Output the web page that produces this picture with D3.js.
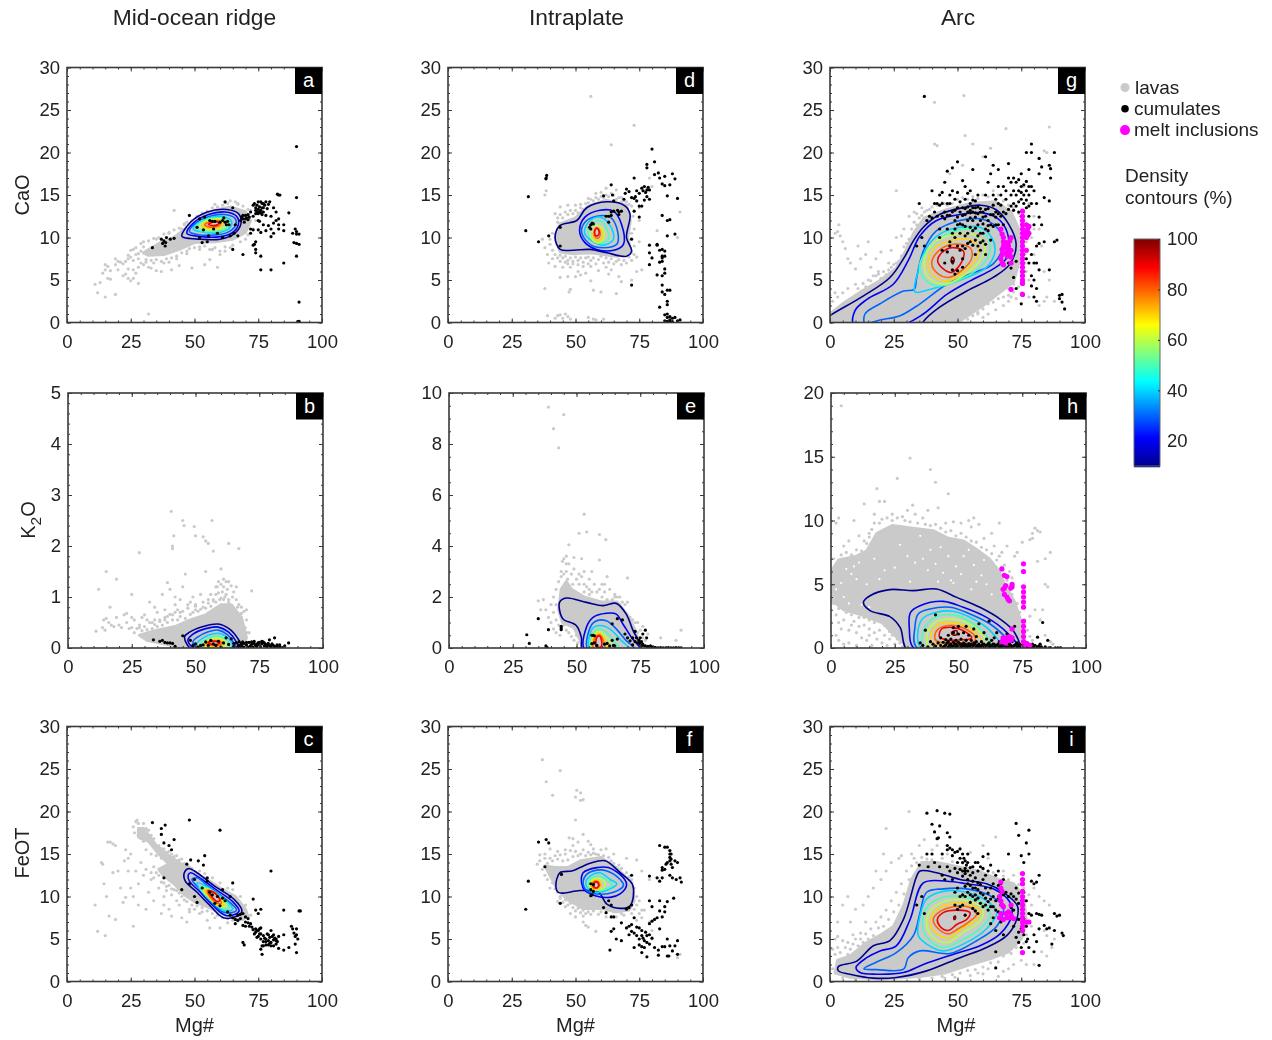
<!DOCTYPE html>
<html>
<head>
<meta charset="utf-8">
<script src="https://cdn.jsdelivr.net/npm/d3@7"></script>
<style>
body { margin:0; background:#fff; }
svg { display:block; filter:blur(0.45px); }
text { font-family:"Liberation Sans",Arial,sans-serif; fill:#222; }
</style>
</head>
<body>
<div id="chart"></div>
<script>
var width = 1272, height = 1040, size = 255;

var columnTitles = ["Mid-ocean ridge", "Intraplate", "Arc"];
var xTicks = [0,25,50,75,100];
var yTicks30 = [0,5,10,15,20,25,30];
var yTicksK5 = [0,1,2,3,4,5];
var yTicksK10 = [0,2,4,6,8,10];
var yTicksK20 = [0,5,10,15,20];
var barTicks = [20,40,60,80,100];
var legendNames = ["lavas","cumulates","melt inclusions"];

// dense part of each lava cloud, read as an outline
var coreA = [[[30,8.2],[36,9.3],[42,10],[47,11.2],[52,12.4],[58,13.2],[64,13.6],[70,13],[72,12],[70,10.6],[65,9.8],[58,9.5],[50,9.4],[44,8.6],[38,8],[32,7.9]]];
var coreB = [[[28,.25],[35,.35],[42,.42],[48,.55],[54,.65],[60,.85],[64,.85],[68,.6],[70,.2],[68,0],[44,0],[38,.08],[31,.15]]];
var coreC = [[[28,18],[30,18],[35,16],[40,14.8],[45,13.8],[50,12.8],[55,12],[60,11],[66,10],[70,8.5],[71,7.6],[68,7.3],[62,7.8],[55,8.8],[50,9.4],[46,10.2],[42,11.5],[38,12.4],[36,13.2],[40,13.8],[36,15],[32,16.5],[28,17]]];
var coreD = [[[42,10],[44,11.6],[50,12.3],[55,13.7],[62,14.4],[70,13.8],[71.5,12],[70.5,10],[72,8.2],[66,7.8],[56,8.2],[49,8.1],[44,8.3]]];
var coreE = [[[43,1.5],[44,2.3],[46,2.6],[48,2.3],[53,2],[60,1.8],[66,1.8],[70,1.3],[73,.7],[75,.1],[53,0],[51,.4],[49,.8],[44.5,1]]];
var coreF = [[[38,13.6],[42,13.4],[47,13.4],[52,14.2],[60,14.6],[66,13.4],[72,11.6],[73,9.5],[71,8.4],[66,8.2],[60,8.6],[53,8.6],[47,9.6],[43,10.8]]];
var coreG = [[[0,0],[0,1],[5,2.2],[12,3.6],[20,5],[26,6.4],[30,8.6],[33,10.6],[37,12.3],[45,13.2],[55,14],[65,14.2],[71,13],[74,11],[75,8],[72,4.8],[66,3.4],[60,2],[54,.8],[50,0]]];
var coreH = [[[0,6],[3,6.9],[10,7.2],[14,7.6],[18,9],[24,9.6],[32,9.4],[40,9.2],[46,8.6],[52,8.4],[58,7.6],[62,7],[66,6],[68,5],[72,3.6],[75,1.8],[76,.3],[70,0],[31,0],[26,.8],[20,2],[12,2.6],[5,3],[0,3.8]]];
var coreI = [[[2,1],[3,2.5],[8,3],[14,4.5],[20,5.5],[25,6.5],[29,9],[32,12],[36,14],[42,14],[50,13.5],[58,13],[66,12],[72,11.5],[76,10],[77,7],[75,5],[70,3.5],[64,2.8],[55,2],[45,1],[35,.6],[20,.3],[8,.5]]];

// holes in the densest arc K2O cloud
var gapsH = [[6,6.2],[8,5.8],[10,5.4],[9,6.4],[11,6.7],[21,6.1],[27,8.1],[30,7.2],[33,6.7],[35,8.8],[36,7],[38,6.1],[39,7.7],[41,6.6],[43,7.9],[44,5.9],[46,7.2],[47,5.3],[49,6.4],[51,5.8],[52,7.2],[54,7.7],[56,6.5],[57,5.2],[59,5.7],[60,6.9],[61,5],[63,4.2],[25,6.3],[17,7],[19,5.4],[14,5],[4,5.1],[2,4.6],[5,4],[12,3.4],[15,3.2],[7,3.5],[31,5.2],[42,5.2],[55,4.6],[48,5.1]];

var lavasA = [[11,4.5],[12,3.5],[15,3],[19,3.3],[14,5.8],[15,6.2],[15,6.8],[16,6.6],[17,6.1],[19,7.5],[19,6.8],[20,6.2],[16,5.2],[17,5.1],[13,4.7],[22,5.5],[23,5.7],[24,5.2],[25,4.9],[26,5.2],[28,4.6],[22,6.9],[23,7.2],[24,7.5],[25,7.7],[28,6.5],[29,7],[30,6.8],[32,6.5],[31,7.1],[33,6.4],[35,6.1],[37,6],[41,6.2],[44,6.7],[49,6.4],[54,6.8],[56,7.4],[59,6.5],[42,13.2],[40,10.5],[45,11],[46,11.6],[32,1],[60,8],[62,8.4],[64,8.8],[58,13.9],[62,14.1],[67,14],[27,5.8],[26,6.2],[24,6.3],[21,7.1],[20,7.2],[34,7],[38,7],[40,7.1],[43,7.5],[47,8.1],[52,8.6],[57,8.6],[47,11.8],[44,10.2],[35,9.8],[30,9.5],
 [26,7.3],[27,8.8],[28,8.1],[29,9.3],[30,8.9],[31,7.4],[32,9.6],[33,7.3],[34,9.9],[35,7.4],[36,10],[37,7.2],[38,10.4],[39,7.5],[40,10.6],[41,7.6],[42,10.9],[43,7.8],[44,11.1],[45,8.2],[46,11.5],[47,8.4],[48,8.7],[49,12],[50,8.8],[51,12.5],[52,8.9],[53,12.9],[54,9],[55,13.1],[56,8.6],[57,13.5],[58,8.8],[59,13.6],[60,8.4],[61,13.8],[62,8.9],[63,14],[64,14.3],[65,9.1],[66,14.2],[67,13.9],[68,9.5],[69,13.7],[70,9.8],[71,13.3],[72,13.2],[73,11],[74,12],[71,10.3],[24,7.9],[25,8.5],[26,8.6],[27,8],[28,7.5],[29,8.4]];
var cumA = [[33.5,8.8],[37,9.8],[37.5,9.3],[38,9.6],[38.5,9],[38.7,9.4],[39,10],[40.5,9.8],[42,9.9],[48,12.6],[51,11.2],[52,12.2],[52,10],[53.5,10.9],[54,12.4],[53,9.4],[55,9.5],[55.5,10.2],[56,12],[57,11.9],[57.5,11],[58,11.9],[59,10.5],[60,11.8],[61,12],[61.5,12.3],[62,11.8],[62.5,11.5],[63,11.9],[63.5,11.5],[62,14.2],[61,10],[64,10.2],[65,8.6],[65,13.5],[65.5,10.5],[66,11.5],[67,10.2],[68,12],[68.5,12.4],[69,12.2],[69,8],[69.5,11.8],[70,12.6],[70.5,12.3],[71,12.1],[71,12.7],[72,13],[72,11],[72,10.5],[73,13.8],[73,10.9],[73.5,14],[74,13.2],[74,13.5],[74.5,13],[75,14.2],[75,12.8],[75,12],[75.5,13.6],[76,13.2],[76,14.2],[76.5,13.5],[76.5,12.7],[77,14],[77,13],[77.5,13.8],[78,14.2],[78,12.6],[78.5,13.4],[79,13.9],[79.5,14.2],[80,12.5],[81,13.5],[82,13],[82.5,15.1],[83,15],[83.5,15],[83,12.2],[83,11.5],[82,12],[81,11.7],[80,11],[79,11.4],[78,10.8],[77,11.5],[76,10.6],[75.5,11.9],[75,10.9],[81,10.5],[80,10.1],[83,11],[85,11.5],[85,10.8],[87,12.9],[90,14.7],[90,20.7],[89.5,11],[90,10.7],[91,10.4],[88.5,10.5],[90,10.4],[89,9.4],[90,9.3],[91,9.2],[90,7.8],[91,2.4],[90.5,.1],[91,.15],[85,7],[80,6.2],[76,6.2],[76,7.8],[74,8.2],[74,8.6],[73.5,9.2],[74,9.5],[73,9.1],[74.5,13.8],[75.5,13],[76,12.9],[76.5,14],[77,13.5],[75,13.3],[74,12.8],[73,12.5],[71.5,12.4],[70,12.2],[69,12.6]];

var lavasB = [[11,.33],[12,1.15],[15,1.5],[13.5,.4],[14,.55],[15,.58],[16,.5],[16.5,.8],[14.5,.35],[17,.45],[18,.42],[19,1.35],[19,.6],[20,.45],[21,.4],[22,.65],[23,.68],[23,.5],[24,.38],[25,1.05],[25,.6],[26,.55],[28,1.87],[28,.4],[29,.6],[30,.65],[31,.55],[32,.9],[33,.5],[34,.8],[35,.7],[37,1.05],[38,.75],[39,1.28],[40,1.15],[40.5,2.68],[41,2],[41,1.95],[41.5,2.2],[42,1],[42,.85],[43,.75],[44,.95],[45,1.2],[45,2.5],[45.5,2.4],[46,1.45],[47,.85],[48,.9],[49,1],[49.5,2.38],[50,2.2],[50,.85],[52,1.05],[53,2.18],[54,2.1],[54,1.5],[55,2.05],[56,1.05],[56.5,2.5],[57,1.9],[58,1.2],[60,1.55],[61,1.35],[63,2.05],[63,1.3],[66,1.2],[67,1.95],[68,.8],[70,.75],[72,1.12],[70,.55],[71,.3],[53,.9],[55,.95],[57,.95],[44,.7],[50,.75],[38,.55],[36,.55],[34,.55],[39,.62],[41,.65],
 [25,.4],[26,.3],[27,.38],[28,.45],[29,.34],[30,.42],[31,.36],[32,.5],[33,.38],[34,.46],[35,.42],[36,.52],[37,.45],[38,.6],[39,.5],[40,.66],[41,.55],[42,.7],[43,.55],[44,.62],[45,.72],[46,.58],[47,.78],[48,.66],[49,.7],[50,.82],[51,.72],[52,.76],[53,.8],[54,.78],[55,.88],[56,.82],[57,.92],[58,1.05],[58.5,1.2],[59,1.3],[59.5,.95],[60,1.25],[60.5,1.1],[61,1.2],[61.5,1],[62,1.3],[62.5,1.15],[63,.95],[64,1.22],[64.5,1],[65,1.1],[66,.95],[66.5,.8],[67,.85],[68,.68],[69,.72],[69.5,.4],[70,.3],[61,.95],[63,.9],[60,.98],[62,1.05],[58,.9],[59,1.08]];
var cumB = [[33.5,.16],[36,.13],[37,.15],[38,.11],[39,.1],[40,.1],[41,.09],[42,.03],[45,.24],[48,.15],[49,.05],[50,.08],[51,.02],[52,.05],[53,.06],[54,.12],[55,.05],[56,.15],[57,.08],[58,.05],[59,.13],[60,.02],[61,.1],[62,.2],[63,.07],[64,.18],[65,.03],[66,.1],[67,.05],[68,.03],[69,.09],[70,.06],[70.5,.02],[71,.11],[71.5,.04],[72,.07],[72.5,.02],[73,.09],[73.5,.05],[74,.03],[74.5,.1],[75,.06],[75.5,.02],[76,.08],[76.5,.12],[77,.04],[77.5,.07],[78,.02],[78.5,.09],[79,.05],[79.5,.03],[80,.08],[80.5,.05],[81,.2],[81,.03],[82,.06],[83,.02],[84,.01],[85,.04],[86.5,.1],[79,.16],[76,.13],[73,.13],[68.5,.12],[67,.12],[65,.09],[66.5,.02],[68,.08],[69,.02],[70,.11],[71,.02],[72,.12],[74,.07],[75,.11],[77,.1],[78,.05],[80,.02],[82,.02],[83,.06]];

var lavasC = [[11,9],[12,5.9],[15,5.4],[14,13.8],[13.5,14],[14.5,11.5],[15.5,10],[16,16.4],[17,16.4],[16.5,7.7],[18,16.2],[18,12.8],[19,16],[19,7.3],[20,13],[21,11],[22,9.3],[22.5,14.2],[23,15.5],[23,9.9],[24,14.5],[24,13],[25,15],[25,11],[26,6.5],[26,10],[27,13],[28,11.5],[28,9],[30,12.5],[31,8.5],[32,10.5],[33,12],[34,9.5],[36,11],[37,8],[38,10],[38,9],[40,8.5],[41,7.7],[43,9.5],[45,7.5],[47,7],[48,8.5],[52,8],[55,7.2],[56,6.3],[58,7.5],[60,6.3],[63,6.9],[34,13.5],[31,13.2],[29,14],[39,10.7],[41,10.2],[44,9],[48,8.2],[50,8.5],[53,8.2],
 [26,18.2],[27,18.8],[27.5,19],[26.5,17.5],[28,17.2],[28,18.6],[29,16.8],[30,18.6],[30,16.5],[31,15.5],[31,18],[32,17.8],[33,15],[33,17.2],[34,16.8],[35,14.8],[36,16],[37,14.5],[37,15.6],[38,15.6],[39,15.2],[40,15.3],[41,15],[42,14.7],[43,14.8],[44,14.3],[45,14.4],[46,13.9],[47,13.6],[48,13.5],[49,13.3],[33,12.8],[34,12.2],[35,12.8],[36,12.5],[37,11.7],[38,11.6],[39,11.2],[40,11.3],[41,10.9],[42,10.8],[43,10.7],[44,10.4],[45,10],[46,9.6],[47,9.4],[49,9],[51,8.9],[53,8.7],[55,8.3],[57,8],[59,7.8],[61,7.5],[63,7.4],[65,7.2],[67,7.1],[69,7.3],[70,9],[68,10],[65,10.8],[63,11],[60,11.6],[57,12.2],[54,12.7],[52,13],[72,7.8]];
var cumC = [[33.5,18.7],[37,18],[37,17.3],[38.5,18.4],[38,16.3],[40,16],[41,15.5],[42,16.7],[38,12.2],[47,13.8],[48,19],[48.5,14.3],[45,10.8],[48,11.5],[50,12],[50,10],[51,9.3],[51.5,14.2],[53,11],[53.5,13.7],[54,14.8],[55,11.8],[55,12.2],[56,10.5],[57,10.2],[58,9.2],[59,10],[60,17.8],[60,8.9],[61,9.8],[61,10.8],[62,9.5],[63,8.2],[64,10],[65,11.6],[65,7.5],[66,6.8],[67,7.8],[67,7.2],[68,7.4],[69,8],[69,6.6],[70,7],[70,6.5],[71,7.4],[72,6.8],[72.5,6.4],[73,9.7],[74,8.4],[74,6.2],[74,5.8],[74.5,5.2],[75,6],[75,8],[75.5,5.6],[76,5],[76,6.3],[76,8.5],[76.5,3.2],[76,3.8],[76.5,4.2],[77,5.4],[77,4.7],[78,5],[78,4.3],[78.5,5.6],[79,4.8],[79,4.3],[79.5,5.2],[80,13],[80,6],[80,4.6],[80.5,5.3],[81,4.9],[81,4.2],[81.5,5.1],[82,4.4],[82,5],[82.5,4.7],[83,5.3],[83,3.9],[85,3.7],[85,8.4],[85,5.5],[87,4],[88,6.5],[88.5,6.2],[89,5.7],[89.5,4.4],[89.5,5.3],[90,6.2],[90,5.5],[90,3.4],[90.5,5],[91,8.3],[91.5,8.3],[69,4.6],[69.5,4.3],[66,7.3],[64,7.8],[68,7.9],[70,7.6],[71,6.9],[71.5,6.5],[73,6.1],[73.5,5.6],[74.5,6],[75,5.3],[75.5,6.2],[76,5.6],[77,4.2],[78,4.7],[79,5.5],[80,4.2],[81,5.5],[82,4.8],[77.5,5.1],[79.5,4.5]];

var lavasD = [[39,.8],[42,.5],[43,.8],[44,.9],[45,.5],[46,1],[47,.7],[48,.4],[55,.6],[57,.4],[58,.3],[61,.4],[38,4],[38,15],[38.5,15.5],[47.5,3.6],[48,3.9],[44,5.3],[47,5.4],[50,5.4],[52,5.6],[54,5.8],[56,4.9],[57,3.8],[60,3.6],[63,5.7],[66,3.4],[67,5.4],[68,4.8],[72,5],[74,6],[76,6.2],[56,26.6],[73,23.2],[64,20.9],[79,17],[80,16],[37,9.8],[38,8.8],[39,8],[39.5,7],[40,9.2],[41,7.5],[42,6.6],[45,6.5],[48,6.5],[51,6],[53,6.6],[56,6.6],[59,6.1],[62,6.5],[64,6.2],[70,7],[72,7.3],[74,7.7],[75,9.5],[75,12],[75,13.5],[42,12.8],[44,13.6],[47,13.8],[50,13.8],[52,13.9],[55,14.6],[58,15.2],[60,15.3],[62,15.8],[66,15.6],[68,14.7],[72,14.7],[91,13],[90,10],[82,10.8],
 [41,10.5],[40,9.8],[41,8.5],[42,8],[43,7.6],[44,7.2],[44,7.9],[45,7.6],[46,7.1],[46,7.8],[47,7.3],[47,6.9],[48,7.6],[49,7.2],[49,6.9],[50,7.7],[51,7.3],[51,6.8],[52,7.6],[53,7.1],[54,7.6],[55,6.9],[55,7.7],[56,7.3],[57,7.6],[58,6.9],[59,7.4],[60,7.8],[61,7],[62,7.6],[63,7.1],[64,7.5],[65,6.9],[66,7.2],[67,7.4],[68,6.8],[69,7.3],[71,7.7],[73,8],[73,9],[72,10.5],[73,11],[72.5,12.5],[43,11.8],[43,12.3],[44,12.7],[45,12.3],[46,13],[47,12.7],[48,13.2],[49,12.8],[50,13.2],[51,12.9],[52,13.5],[53,13.3],[54,14],[55,14.1],[56,14.5],[57,14.3],[58,14.7],[59,14.5],[60,14.8],[61,14.7],[62,15],[63,14.8],[64,15.2],[65,15],[66,14.5],[67,14.7],[68,14.2],[69,14.3],[70,14.2],[71,13.9],[72,13.7]];
var cumD = [[30.5,10.8],[31.5,14.8],[35.5,9.5],[38.5,17],[38.7,17.3],[38.4,16.9],[39.5,10.2],[44,11.2],[44,9],[56,11.5],[56.5,11.7],[55.5,11.2],[57,11.6],[56,11],[64,16.2],[61,14.9],[64.5,15],[65,14.3],[62,12.5],[63,12.5],[63,11.8],[64,13],[64,12.6],[65,13.1],[66.5,13.2],[67,12.7],[67,13],[68,13.1],[69,14.5],[69.5,15.2],[70,15.7],[71,15.4],[72,14.7],[72,9.8],[73,14.6],[73,13.1],[73,17],[73.5,14.8],[74,15.5],[74,14.3],[75,15.2],[75,13.7],[75,12.4],[76,15.8],[76,13.7],[76.5,15.5],[77,16],[77,14.4],[77.5,15.3],[78,15.6],[78,14.8],[78.5,15.9],[79,15.6],[79,14.5],[80,20.4],[78,18.6],[78,18.2],[81,18.9],[81,17.4],[82.5,17.6],[83,17],[84,16.3],[85,16.1],[85,17.2],[86,14.9],[87,16.2],[87,12.1],[88,17.5],[89,16.9],[90,14.6],[84,12.6],[86,12],[86,10.2],[89,10.4],[79,9.1],[79,8.2],[79,6.8],[82,9.2],[82,9.1],[83,8.5],[80,7.6],[83,7.1],[84,7.6],[84,7.8],[85,8.4],[85,7.8],[85,6.3],[85,5.8],[84,7.2],[82,5.6],[84,5.5],[84,4.4],[85,3.3],[84,3.6],[86,3.8],[87,3.8],[86,2.5],[86,2.1],[83,1.8],[85,.9],[86,1],[86,.6],[87,.3],[87,.7],[88,.1],[88,.5],[85,.2],[86,.15],[87,.05],[89,.6],[90,.2],[91,.3],[72,4.4],[84,8.6]];

var lavasE = [[39,9.45],[41,8.6],[43,7.85],[45,9.15],[53,5.25],[51,4.5],[54,4.55],[59,4.45],[61.5,4.25],[47,4.05],[49,3.55],[52,3.5],[46,3.6],[59,3.45],[62,2.8],[70,2.75],[61,2.5],[56,3],[53,3],[65,2],[67,2],[68,1.8],[36,1.5],[35,1.85],[37,1.9],[38,1.5],[39,1.2],[40,1],[41,.75],[42,.6],[43.5,.5],[44,2.8],[45,3.5],[46,3.3],[51,2.9],[55,2.7],[72,1.1],[76,.85],[74,1],[78,.55],[83,.4],[89,.3],[91,.7],[70,1.8],[47,2.1],[60,2.5],
 [40,1.7],[41,1.4],[41,2],[42,1.1],[42,1.7],[42,2.3],[43,.9],[43,2.6],[44,.75],[44,3],[44.5,3.4],[45,2.9],[45,.9],[46,3],[46,.7],[46.5,2.7],[47,3.3],[47,.6],[48,2.9],[48,.45],[48.5,2.5],[49,3.1],[49,.3],[50,2.7],[50,.5],[50.5,.2],[51,2.5],[52,2.8],[52,.25],[53,2.5],[53,2.2],[54,2.4],[55,2.3],[55,2.1],[56,2.2],[57,2.5],[58,2.2],[59,2.3],[60,2],[61,2.2],[62,1.9],[63,2.3],[64,1.9],[65,2.1],[66,2],[67,1.7],[68,1.5],[69,1.7],[70,1.3],[71,1.2],[72,.8],[73,1],[74,.6],[75,.7],[76,.4],[77,.3]];
var cumE = [[30.5,.52],[31.5,.18],[35,1.15],[38,.08],[38.5,.02],[39,.72],[44,.72],[44,.78],[44,.85],[56,.5],[56.5,.5],[57,.48],[56,.17],[57,.2],[58,.1],[61,.15],[62,.18],[63,.08],[64,.95],[64,.3],[64.5,.1],[65,.08],[66,.35],[66,1.15],[68,1.1],[69,.55],[70,.4],[71,.28],[72,.4],[72,.12],[73,.65],[73,.25],[73.5,.4],[74,.2],[74.5,.3],[75,.15],[75,.4],[75.5,.25],[76,.15],[76,.55],[77,.7],[77.5,.4],[76,.1],[77,.08],[78,.06],[78,.02],[79,.08],[79.5,.02],[80,.05],[80.5,.02],[81,.02],[82,.01],[83,.02],[84,.01],[85,.01],[86,.02],[87,.01],[88,.01],[89,.02],[90,.01],[91,.01]];

var lavasF = [[37,26.1],[38.5,23.5],[41,21.9],[44,24.8],[50,21.7],[50.5,22.5],[52,22.2],[52,21.3],[53,21.4],[50,19],[53,17.3],[47.5,16.9],[49,16.8],[49,16],[51,16.4],[55,16.5],[56,16.1],[57,15.6],[60,15.5],[62,15.6],[36,14.9],[38,15],[40,15.6],[43,15.3],[46,15.5],[65,15],[70,14.5],[74,14.3],[76,13],[79,12],[79,7],[80,6],[80,5],[58,5.9],[53,7],[54,6.6],[55,6.4],[46,8.8],[48,8],[50,7.6],[53,7.7],[43,9.4],[44,10],[40,11],[38,12.5],[91,3.2],[90,2.8],[87,3],[62,7.6],[66,7.6],[69,7.8],[74,7.2],[76,7.5],[77,8.4],
 [35,13.8],[36,14.2],[37,13.2],[38,14.5],[39,12],[39,13.9],[40,14.5],[40,12.6],[41,14.2],[41,11.6],[42,10.9],[42,14.8],[43,10.5],[43,14.4],[44,14.9],[44,9.8],[45,14.2],[45,9.3],[46,15],[46,9.6],[47,14.3],[47,9],[48,15.4],[48,9.2],[49,14.7],[49,8.7],[50,15.3],[50,8.3],[51,14.8],[51,8.6],[52,15],[52,8.1],[53,15.5],[53,8.4],[54,14.8],[54,8],[55,15.2],[55,8.2],[56,14.9],[56,7.9],[57,15.1],[57,8.3],[58,15],[59,14.9],[59,7.9],[60,8.2],[61,14.8],[63,14.6],[63,8.6],[64,14.2],[65,13.9],[65,8.2],[67,13.7],[68,13.3],[68,8],[70,12.8],[71,12.3],[72,8],[72,12],[73,11],[73,8.5],[74,10],[74,9],[75,8],[75,9.5],[76,8.4]];
var cumF = [[30.5,8.5],[31.5,11.8],[35.5,16.4],[38.5,16.7],[39.5,16.3],[38,13.5],[44,9.2],[44.5,12.6],[56,11.5],[57,11.4],[56,10.8],[57,10.6],[56.5,10.2],[56,10.1],[63,9.5],[64,9],[61,8.7],[62,8.1],[64,7.6],[65,7.6],[68,6.9],[64,5.9],[65,6.2],[63.5,3.7],[66,5],[68,4.8],[70,6.3],[71,6.5],[71,5.5],[72,6.7],[72,5.9],[73,5.7],[73,4],[74,5.4],[74,6.4],[75,6.3],[75,4.3],[75,5],[76,5.4],[76,6],[76,3.4],[76,4.1],[76.5,5.1],[77,4],[77,4.8],[77.5,5.8],[78,4.6],[78,2.9],[78,5.4],[79,5.5],[79,6.8],[79,4.4],[80,5.1],[80,7.1],[80,8.8],[81,7.3],[81,4],[82,7.5],[82,12.2],[79,9.5],[79,12.4],[82.5,3.1],[82.5,3.7],[83,6.2],[83,8.3],[83,9.5],[83,11.8],[83,16],[84,7.6],[84,13.1],[84,13.4],[84,4.1],[84,12.2],[85,8.8],[85,8.2],[85,13.2],[85,15.8],[85,4.1],[85.5,13.8],[86,9.4],[86,5],[86,3],[86,15.8],[86,14],[86.5,3],[87,15.4],[87,15],[87,14.6],[87,14.2],[87,4.2],[87,12.5],[87.5,15],[87.5,14.4],[87.5,13.8],[88,13.4],[88,12.2],[88,3.6],[88.5,9.8],[89,14.2],[89,4.2],[89.5,12],[90,4.8],[90,14],[90,3.2],[91,12.2],[91.5,11.7],[72,12.5],[72,9],[71,8.7],[70,8.5],[73,7.5]];

var lavasG = [[2,10.5],[3,10.7],[4,10.2],[5,9.5],[3.5,11.5],[6,8.7],[7,7.5],[8,7],[10,6.3],[11,9],[12,7.5],[14,8],[15,9.5],[16,6.5],[18,7.5],[19,6],[20,8.3],[23,7],[24,8.5],[26,15.5],[26,10],[28,10.2],[29,11],[31,12.5],[33,13],[34,12.8],[36,13.5],[41,21],[42,20.8],[41,25.9],[52.5,26.7],[47,17.5],[52,18.5],[53,22],[56,21],[63,20.5],[60,19.5],[69,22.8],[86,23],[84,20.2],[85,20],[76,16],[78,14],[80,12.5],[82,11],[83,9],[80,8],[84,6],[86,5],[85,3],[84,2.5],[82,2],[78,3],[75,3.5],[73,2.8],[70,2.5],[68,2],[65,1.5],[62,1],[60,.6],[58,1],[54,.4],[52,1],[50,.3],[46,.5],[69,5.5],[71,3],[5,3.5],[10,4.5],[15,5],[18,5.5],[21,6],[24,6.5],[26,7],[88,2.5],[3,3],[7,4],[1,2.5],[2,3.5],[0,3.2],[29,2],[34,.6],[40,.4],[44,.2],[48,.7],[55,1.2],[57,1.6],[62,2.2],[70,4],[72,4.5],[77,6],[78,5],[80,11],[79,10],[77,11.5],[66,15],[64,15.5],[60,15],[50,14.5],[45,14],
 [11,4],[13,4.6],[14,4.2],[16,4.9],[17,5.5],[19,5.7],[20,5.2],[22,5.6],[23,6.2],[25,6.8],[27,7.2],[28,7.8],[29,8.9],[30,9.3],[31,9.8],[32,11],[33,11.8],[34,11.5],[35,12.3],[36,12.6],[37,13],[38,13.2],[39,13.3],[40,13.6],[42,13.8],[44,14.1],[46,13.8],[48,14],[52,14.7],[54,14.5],[56,14.8],[58,14.6],[62,14.8],[68,14.3],[70,13.8],[72,13.5],[74,12.8],[75,12],[76,10.8],[77,9.5],[77,8.3],[76.5,7],[76,5.5],[75,4.7],[74,4.2],[72,3.6],[70,3.2],[68,3],[66,2.8],[64,2.4],[62,2.8],[60,1.6],[58,1.2],[56,.8],[54,1.3],[52,.5],[50,.7],[48,.2],[42,.3],[38,.2]];
var cumG = [[37,26.6],[35,14],[34,9],[36,10],[37,9],[38,12],[39,12.5],[40,15.5],[41,13],[41,14],[42,14],[42,12.5],[43,15],[43,11],[44,15.3],[44,14],[44,12.5],[45,13],[45,16.5],[46,14],[46,17.8],[46,11],[47,14],[47,12.6],[47,15],[47,9.5],[48,18.2],[48,15.5],[48,13],[48,10.5],[49,14.5],[49,12],[49,10],[50,13.5],[50,18.9],[50,15.3],[50,11.5],[50,9],[51,13],[51,10.5],[51,8.5],[52,16.7],[52,13.5],[52,11.5],[52,9],[52,7.5],[53,16],[53,13.4],[53,12.7],[53,10.2],[53,8.7],[54,15.2],[54,13],[54,12],[54,10.5],[55,15.5],[55,13.2],[55,12.3],[55,11.2],[55,9.5],[56,18],[56,13],[56,12],[56,10.8],[56,9.1],[57,14.3],[57,12.4],[57,11.1],[57,8],[58,15],[58,12.8],[58,11.5],[58,9],[59,13],[59,12],[59,10.5],[59,8.5],[60,13],[60,11.6],[60,9.6],[61,19.5],[61,12.5],[61,15],[61,11],[61,8],[62,16.5],[62,12],[62,10.8],[63,17.5],[63,11.5],[64,15],[64,12.7],[64,18.5],[65,14.5],[65,11.5],[65,13],[66,14],[66,16],[66,18],[67,15],[67,12.5],[68,16],[68,13],[69,14.5],[69,15.5],[70,17],[70,18.7],[71,16.5],[71,15],[71,13.7],[72,17],[72,15.5],[72,14],[73,16.5],[73,15],[74,16.8],[74,14.2],[74,13],[75,16],[75,17.5],[75,14.5],[75,12.5],[76,15],[76,14],[76,8],[76,6],[77,20],[77,15.5],[77,13.5],[77,7.5],[78,18],[78,16],[78,15],[78,12.5],[78,7],[79,21],[79,20],[79,16],[79,14],[79,8],[79,5.5],[79,4.3],[80,15.5],[80,11.5],[80,7],[80,5],[80,3],[81,14],[81,9],[81,7],[81,4],[81,2.5],[82,19.3],[82,17.5],[82,12.4],[82,9.3],[82,6.2],[83,18.3],[83,11.5],[84,14.7],[84,9.5],[86,18.5],[86.5,18.1],[86.5,17],[86,14.3],[86,6.2],[88,20],[88,9.5],[89,9.7],[90,3.2],[90,2.8],[91,2.4],[91,3.3],[92,1.6],[75,2.2],[73,4],[72,5.3],[71,6.4],[70,7],[73,7.2],[48,7.2],[48,6.2],[49,5.7],[50,6.1],[52,6.5],[44,8.5],[43,10],[45,7],[46,8.3],[47,9],
 [40,12.3],[43,13.8],[45,12.2],[46,12.6],[49,13.2],[49,11],[50,12.4],[51,14.2],[51,11.6],[52,12.6],[53,14.5],[53,11.3],[54,13.6],[54,9.3],[55,14],[55,12.9],[56,14.4],[56,13.5],[57,13.5],[57,12.9],[57,9.7],[58,13.6],[58,10.2],[59,13.4],[59,9.4],[60,12.4],[60,10.5],[61,13.3],[61,9.2],[62,13.4],[62,11.4],[63,12.7],[63,9.7],[64,13.8],[64,11.3],[65,12.4],[66,12.8],[66,11.5],[67,13.8],[68,11.5],[69,12.8],[70,13.3],[72,13.2],[73,13.7],[74,15.5],[75,15.3],[76,16.2],[77,14.4],[77,16.6],[78,13.7]];
var meltG = [[67,11],[67.5,10.4],[68,10],[68,9.5],[68,9],[67.5,8.6],[67.5,8],[67,7.5],[67.5,7],[68,6.8],[69,9.4],[69,8.8],[69,8.2],[69.5,7.8],[70,9],[70,8.4],[70.5,8],[70.5,9.6],[71,10],[71,8.5],[71,7.7],[71,7],[71,3.9],[75.5,3.3],[75.5,4.6],[75.5,5],[75.5,5.5],[75.5,6],[75.5,6.5],[75.5,7],[75.5,7.5],[75.5,8],[75.5,8.5],[75.5,9],[75.5,9.5],[75.5,10],[75.5,10.5],[75.5,11],[75.5,11.5],[75.5,12],[75.5,12.5],[75.5,13.1],[76.5,10.2],[77,10],[77,10.6],[77.5,10.3],[77.5,11],[77,11.5],[78,10.5],[78,11.3],[77,8.5]];

var lavasH = [[4,19],[31,14.9],[39,14],[41,13],[26,13.3],[18,12.5],[13,11.3],[19,11.5],[21,11.5],[32,11.2],[30,10.8],[38,10.8],[46,12.1],[42,11],[9,10],[3,10.2],[2,9.8],[5,8],[7,8.4],[11,8.8],[13,8.4],[15,9],[17,10.5],[24,10.5],[28,10.3],[33,10.5],[36,10.2],[45,9.8],[48,9.9],[51,9.8],[55,9.5],[54,10],[56,10.2],[58,9.7],[60,8.6],[63,9],[66,9.8],[64,8],[67,7.5],[69,8],[72,7.2],[73,7.5],[75,8.3],[78,8.5],[79,9],[80,9.4],[81,9.2],[82,9.1],[79,8.6],[86,7.5],[81,6.8],[84,7],[84,5],[85,4.8],[83,3],[80,3],[82,2.2],[78,2.5],[84,1],[86,.5],[87,.3],[2,2.6],[3,2],[4,1.5],[2,1],[3,.6],[8,1.8],[10,1.2],[12,.8],[14,.6],[15,1.5],[18,.7],[20,.4],[22,.2],[7,.4],[10,.2],[16,.2],[5,.3],[25,.3],[28,.1],[70,4.5],[71,5.5],[68,6.5],[70,6],[66,7.2],
 [1,7],[4,7.3],[6,7.5],[8,7.3],[10,7.7],[12,7.6],[14,8.2],[15,8.7],[16,9.3],[17,9.8],[19,9.8],[20,10.1],[22,10.2],[24,10],[26,10.2],[29,10],[31,9.9],[34,9.8],[37,9.7],[39,9.6],[41,9.7],[43,9.4],[45,9.1],[47,9.2],[49,8.8],[51,9],[53,8.7],[55,8.4],[57,8.3],[59,7.9],[61,7.7],[63,7.4],[65,6.9],[67,6.3],[69,5.3],[70,4.8],[71,4.2],[73,3.5],[74,2.8],[76,2.2],[77,1.4],[78,.9],[79,.6],[1,3.5],[3,3.1],[6,2.8],[8,2.6],[11,2.4],[13,2.4],[15,2.2],[17,2],[19,2.1],[21,1.8],[23,1.3],[24,1],[26,.7],[27,.4],[5,2.2],[7,1.4],[9,2.1],[11,1.7],[13,1.8],[15,1],[17,1.2],[19,1.4],[21,1],[23,.7]];
var cumH = [[41,2.6],[37,1.4],[35,.4],[36,.2],[38,.1],[39,.5],[40,.3],[41,.15],[42,.4],[43,.2],[43,.8],[44,.05],[44,.45],[45,.25],[45,.65],[46,.1],[46,1],[46,.5],[47,.3],[47,.7],[47,.05],[48,1.6],[48,1.2],[48,.45],[48,.15],[49,.3],[49,.6],[49,.05],[50,1.1],[50,.2],[50,.45],[50,1.7],[51,.3],[51,.7],[51,.05],[52,1.2],[52,.15],[52,.4],[53,.25],[53,.6],[53,1.7],[53,.05],[54,.35],[54,.15],[54,1],[55,.3],[55,.6],[55,.05],[56,1.5],[56,.2],[56,.4],[57,.1],[57,.5],[57,.9],[58,.3],[58,.05],[58,1.9],[59,.15],[59,.5],[60,.3],[60,1.2],[60,.05],[61,.2],[61,.7],[62,.4],[62,2.1],[62,.05],[63,.15],[63,.6],[64,.3],[64,.8],[64,.05],[65,.2],[65,1.2],[66,.1],[66,.5],[67,.25],[67,.05],[68,.4],[68,.15],[69,.05],[69,1.1],[70,.3],[70,.1],[71,.5],[71,.05],[72,.2],[72,1.7],[73,.1],[73,.4],[74,.05],[74,.3],[75,.15],[76,.05],[76,.3],[77,.1],[77,.4],[78,.05],[78,.2],[79,.1],[79,.3],[80,.05],[80,.2],[81,.85],[81,.1],[82,.05],[82,.3],[83,2],[84,.1],[84,.02],[85,.6],[86,.03],[88,.02],[89,.02],[90,.02],
 [44.5,.15],[45.5,.4],[46.5,.25],[47.5,.15],[48.5,.3],[49.5,.15],[50.5,.3],[51.5,.2],[52.5,.3],[53.5,.15],[54.5,.2],[55.5,.15],[56.5,.3],[57.5,.2],[58.5,.15],[59.5,.3],[60.5,.15],[61.5,.3],[62.5,.2],[63.5,.3],[64.5,.15],[65.5,.3],[66.5,.15],[67.5,.3],[68.5,.15],[69.5,.3],[70.5,.2],[71.5,.15],[72.5,.3],[73.5,.15],[74.5,.2],[75.5,.1],[76.5,.2],[77.5,.15],[78.5,.1],[79.5,.15],[80.5,.1],[81.5,.15],[82.5,.1]];
var meltH = [[67,6.2],[68,5.7],[69,5.6],[67.5,4.6],[68,4.7],[68.5,4.9],[69,4],[69.5,3.8],[68,4.2],[70,3.7],[71,5],[71,4.8],[70.5,4.7],[67,.5],[67.5,.8],[68,.6],[68.5,.4],[69,.8],[69.5,.6],[70,.9],[70.5,.6],[71,.8],[71,1.5],[75.5,6.6],[75.5,6],[75.5,4.8],[75.5,4.4],[75.5,4],[75.5,3.6],[75.5,3.2],[75.5,2.1],[75.5,1.7],[75.5,1.3],[75.5,.9],[75.5,.5],[75.5,.1],[76,.4],[77,.3],[78,.2]];

var lavasI = [[22,18],[31,20],[21,15],[27,14.5],[35,16],[37,16.7],[40,15.5],[42,16],[46,15],[55,15.2],[60,16],[62,14.5],[68,13],[72,12.5],[80,11],[82,10],[84,9.5],[86,9],[88,8],[84,6],[85,5.4],[83,3.5],[85,3],[87,4],[80,2],[77,2],[75,2.5],[72,2],[70,1.5],[68,1.2],[66,.6],[62,1.5],[60,.9],[58,1],[55,.7],[49,.5],[45,.4],[5,9],[7,10],[8,7],[3,7],[10,8.5],[13,9],[15,10],[17,11],[18,13],[20,12],[22,13],[24,14],[14,7],[12,5.7],[9,5.5],[3,5.3],[2,5],[5,4.8],[1,3.8],[7,3.2],[0,3],[28,14.8],[32,15],[88,5],[65,17],
 [1,1.5],[2,3.2],[3,4],[4,3.4],[6,4],[7,4.6],[8,3.8],[9,4.4],[10,5],[11,4.2],[12,5],[13,4.6],[14,5.6],[15,5],[16,6.2],[17,5.4],[18,7],[19,6.3],[20,7.6],[21,6.5],[22,8.4],[23,7.3],[24,9.5],[25,8.2],[26,10.5],[27,9],[28,11.5],[29,10.3],[30,13],[31,12],[32,13.6],[33,14.5],[34,14],[36,14.6],[38,14.4],[40,14.3],[44,14.5],[48,14.1],[52,13.9],[56,13.5],[60,13.2],[64,12.8],[68,12.4],[70,12],[74,11.4],[76,11],[78,10.2],[79,9],[78,8],[79,6.5],[77,5.5],[76,4.5],[73,4],[71,3.3],[68,3],[66,2.3],[63,2.2],[60,1.7],[57,1.4],[54,1.3],[51,1],[48,.8],[44,.6],[40,.4],[35,.3],[10,.2],[5,.4]];
var cumI = [[38,19.8],[42,20.1],[45,19.8],[47,19.7],[40,18.5],[43,18.3],[41,17.6],[38.5,13.5],[35,13.7],[34,9],[36,10],[37,8],[38,15],[40,15],[41,14],[42,16.8],[42.5,16.9],[44,15],[43,13.5],[44,12.5],[45,12],[46,17.5],[46,16],[46,15.5],[46,13.5],[47,13],[47,17],[47,15.7],[48,14.8],[48,15.5],[48,12],[49,15.2],[49,13.3],[49,10.5],[49,9],[50,15.3],[50,12.8],[50,11],[50,8.5],[51,14.5],[51,13.2],[51,10],[51,8.8],[52,14],[52,13],[52,12.4],[52,10.2],[52,9],[53,13.3],[53,12.7],[53,11.2],[53,10],[53,7.8],[54,15],[54,13],[54,12],[54,10.5],[55,12.5],[55,10.2],[55,9.3],[56,13.5],[56,11.8],[56,10],[56,8.6],[57,12.2],[57,9.6],[57,8.3],[58,14],[58,13],[58,9.8],[58,8],[59,13.5],[59,9.2],[60,13.3],[60,14.7],[60,8.8],[61,12.5],[61,9],[62,15],[62,13],[62,8.4],[63,13.7],[63,8.8],[63,6.8],[64,11.5],[64,7.5],[65,12.5],[65,6],[65,3.5],[65,1.6],[66,11.3],[66,9.8],[66,13],[67,11.5],[67,7],[68,12],[68,5.5],[69,10.5],[69,7.5],[70,15],[70,10],[71,8.7],[71,10.3],[72,10],[72,6.5],[73,9.7],[73,18.6],[73,5.2],[74,4.6],[74,17.2],[74,5.8],[75,14.8],[75,4],[76,10.5],[76,5.5],[76,14],[77,16.3],[77,9.5],[77,4.7],[77,6.5],[77.5,5],[78,17.8],[78,15],[78,8],[78,4],[79,11.8],[79,7.8],[80,11.5],[80,5.5],[80,3.5],[81,11.7],[81,8],[81,4.7],[82,12.5],[82,7.9],[82,6.2],[82,1.9],[83,7.8],[84,6.6],[85,6.2],[86,6.3],[87,4.4],[88,8],[88,6],[89,7.7],[90,7.8],[91,5.7],[91.5,5.4],
 [50,14],[51,15.6],[52,15],[52.5,14.5],[53,14.2],[53,13],[53.5,13.7],[54,14],[54,11.5],[55,13.4],[55,11.3],[56,12.8],[56,11],[57,14],[57,11],[57,10.2],[58,11.6],[58,10.8],[59,11.4],[59,10.4],[60,12],[60,10.2],[61,11],[61,9.8],[62,10.4],[62,9.4],[63,11],[63,9.7],[64,10],[64,8.8],[65,9.5],[65,8.4],[66,8.2],[67,9],[68,10.2],[72,8.4],[73,11],[74,10.4],[74,7.3],[75,6.2],[76,7.4],[74,9.2]];
var meltI = [[67,11.7],[67,11],[67.5,10.6],[66.5,10],[67,9.5],[67.5,9],[68,8.8],[67,8],[66.5,7.5],[68,7.3],[69,8],[69.5,7.5],[70,8.2],[70.5,7.5],[71,7.8],[71,9],[72,7.4],[75.5,3.4],[75.5,6],[75.5,6.5],[75.5,7],[75.5,7.5],[75.5,8],[75.5,8.5],[75.5,9],[75.5,9.5],[75.5,10],[75.5,10.6],[75.5,11.5],[75.5,12],[75.5,12.7],[76,7],[77,7],[78,7]];

// density contours, one ring per level, outermost first
var contoursA = [
 [[45,10.2],[48.4,11.8],[55,13],[62.7,13.3],[67.3,12.8],[68.2,11.6],[65.4,10.4],[60,9.8],[52.3,9.8],[45.8,10]],
 [[47,10.5],[50,11.8],[55.5,12.7],[62,13],[66.5,12.5],[67.2,11.5],[64.5,10.5],[60,10.1],[53,10.1]],
 [[48,10.7],[51,11.8],[56,12.5],[62,12.7],[66,12.2],[66,11.4],[63,10.6],[58,10.3],[52,10.3]],
 [[49.5,11],[52,11.8],[57,12.4],[62,12.4],[64.5,11.9],[64,11.2],[60,10.6],[54,10.6]],
 [[50.5,11.2],[53,11.9],[58,12.3],[62,12.2],[63.5,11.7],[62,11],[57,10.7],[52.5,10.8]],
 [[52,11.3],[55,12],[59,12.2],[62,11.9],[62,11.3],[58,10.9],[54,11]],
 [[53,11.4],[56,11.9],[60,12],[61,11.6],[59,11.1],[55,11.1]],
 [[54,11.5],[57,11.9],[60,11.9],[60,11.5],[58,11.25],[55.5,11.25]],
 [[55.5,11.55],[58,11.85],[59.5,11.75],[59,11.5],[57,11.4]]
];
var contoursB = [
 [[45.7,.22],[47.7,.31],[53,.42],[58.8,.47],[63.4,.37],[66.7,.18],[68.4,0],[64,-.05],[49,-.05]],
 [[47,.15],[49,.27],[54,.38],[59,.41],[63,.31],[66,.12],[67,-.02],[50,-.02]],
 [[49,.12],[51,.22],[55,.32],[59,.35],[62.5,.26],[65,.1],[66,-.02],[51,-.02]],
 [[50.5,.08],[53,.2],[57,.28],[60,.28],[63,.18],[64.5,.03],[52,-.02]],
 [[52,.07],[55,.19],[58,.24],[61,.2],[63,.1],[63,-.02],[53,-.02]],
 [[53,.08],[56,.17],[59,.2],[61,.15],[62,.05],[55,0]],
 [[53.5,.07],[57,.15],[60,.15],[61,.08],[58,.03],[55,.03]],
 [[54,.1],[57,.14],[60,.12],[60,.07],[57,.05]],
 [[55,.11],[58,.13],[59.5,.1],[58,.07],[56,.08]]
];
var contoursC = [
 [[46,12.8],[47.7,13.3],[51,12.8],[57.5,11.3],[65.4,9.7],[68.6,8.3],[66.7,7.7],[61.4,7.5],[56.2,8.9],[51,10.5],[46.4,11.8]],
 [[47.5,12.5],[48.5,12.8],[51.5,12.3],[58,10.9],[65,9.4],[67.5,8.3],[66,7.9],[62,7.8],[57,9],[52,10.6],[48,11.8]],
 [[49,12],[51,12.2],[55,11.3],[60,10.2],[65,9],[66.5,8.4],[64.5,8.1],[61,8.2],[56,9.5],[52,10.9]],
 [[51,11.6],[54,11.3],[59,10.3],[64,9],[65,8.5],[62,8.3],[58,9.1],[54,10.2]],
 [[52,11.1],[55,11],[60,9.9],[63.5,8.9],[63,8.5],[60,8.7],[56,9.7]],
 [[53,10.9],[56,10.8],[60,9.8],[62.5,8.9],[60,8.8],[57,9.5]],
 [[54,10.8],[57,10.6],[60,9.7],[61.5,9],[59,9],[56,9.8]],
 [[55,10.7],[57.5,10.5],[60,9.6],[60.5,9.2],[58.5,9.3],[56,10]],
 [[55.5,10.7],[58,10.4],[60,9.6],[59,9.4],[57,9.9]]
];
var contoursD = [
 [[42,10],[43.9,11.4],[50.5,12],[54.4,13.5],[62.3,14.2],[69.5,13.7],[71.4,12.7],[70,10],[72,8.4],[70,7.8],[62.3,8.2],[55.7,8.6],[49,8.5],[44,8.6]],
 [[51.6,10.8],[53.7,12.4],[59.6,13.2],[64.9,13.1],[68,11.6],[68.8,9.2],[65,8.5],[58.3,8.6],[53.7,9.4]],
 [[52.4,10.6],[53.7,11.8],[58.3,12.5],[63.6,12.4],[66.6,10.6],[66.2,9.2],[60.9,8.8],[55.7,9.2]],
 [[53.5,10.6],[55.7,12],[59.6,12.4],[63.6,11.4],[64.9,9.8],[61,9.1],[56.4,9.6]],
 [[55,10.8],[56.4,11.6],[59.6,12],[62.3,11],[62.9,9.8],[59.6,9.3],[56.4,9.8]],
 [[55.7,10.6],[57.7,11.4],[60.3,11.2],[61.2,10],[58.9,9.4],[56.5,9.8]],
 [[57,10.5],[58,11.1],[60,10.9],[60.5,10],[59,9.6],[57.3,9.9]],
 [[57.3,10.6],[58.3,11.1],[59.5,10.8],[59.6,10.2],[58.7,9.9],[57.6,10.1]],
 [[57.5,10.7],[58.3,11.1],[59.2,10.8],[59,10.3],[58,10.2]]
];
var contoursE = [
 [[43.4,1.8],[46,1.96],[53.9,1.79],[60.4,1.66],[65.6,1.75],[69.5,1.33],[72.2,.68],[75.4,.03],[74,-.1],[52.5,-.1],[51.9,.42],[49.9,.88],[44.7,1.14],[43.4,1.46]],
 [[53.2,-.05],[53.9,.81],[56.5,1.2],[61.7,1.36],[65.6,1.33],[68.2,.94],[71.5,.42],[74.8,-.05]],
 [[54.5,-.05],[54.9,.68],[57.1,1.03],[61.7,1.07],[65,.81],[69.5,.29],[72.8,-.05]],
 [[55.2,-.05],[56.2,.75],[59.1,.88],[63,.75],[67.6,.29],[70.8,-.05]],
 [[55.7,-.05],[56.5,.55],[59.1,.75],[62.4,.55],[65.6,.16],[67,-.05]],
 [[56,-.05],[56.8,.5],[59,.65],[61.5,.45],[64,.1],[64.5,-.05]],
 [[56.3,-.05],[57,.45],[59,.58],[60.7,.4],[62,.1],[62.5,-.05]],
 [[56.7,-.05],[57.4,.42],[59,.52],[60.3,.35],[60.8,-.05]],
 [[57.8,.05],[58,.42],[59,.47],[59.8,.3],[59.6,.05]]
];
var contoursF = [
 [[42.3,11.3],[43.9,12.8],[48.5,13],[51.8,13.4],[55.7,13.9],[61.6,14.2],[67.5,12.8],[72.5,11.3],[71.4,8.9],[67.5,8.6],[62.3,9.1],[59,10.5],[51.8,10.7],[45.2,10.4],[43.2,10.5]],
 [[52.4,11.6],[53,12.8],[58.3,13.4],[62.9,13.4],[68.8,12.2],[70,11.3],[67.5,10.3],[63.6,9.9],[57.7,10.1],[53.7,10.7]],
 [[53,11.6],[54.4,12.6],[58.3,13.1],[62.3,13],[67.5,12],[68.8,11.3],[64.9,10.5],[58.3,10.3],[54.4,10.7]],
 [[54,11.6],[55.7,12.4],[59.6,12.8],[63.6,12],[66.2,11.5],[63.6,10.9],[58.3,10.5],[55,10.9]],
 [[55,11.5],[56.5,12.2],[59.5,12.4],[62.5,11.9],[64.5,11.4],[62,10.9],[58.5,10.7],[56,10.9]],
 [[55.5,11.4],[57,12],[59.5,12.1],[61.5,11.6],[61,11],[58,10.8],[56.2,10.9]],
 [[56,11.4],[57.3,11.9],[59.2,11.9],[60,11.4],[59,10.9],[57,10.9]],
 [[56.5,11.4],[57.5,11.8],[59,11.7],[59.5,11.3],[58.5,11],[57.2,11]],
 [[57,11.3],[57.8,11.7],[58.8,11.6],[59,11.2],[58,11]]
];
var contoursG = [
 [[-1,.5],[0,.8],[13,3.1],[23.5,5.3],[29,7.6],[32.7,9.6],[36.6,11.2],[43,12.7],[52,13.5],[59,13.8],[65,13.3],[70,11.6],[73,9.2],[70.6,6.9],[64,5.3],[53.6,3.7],[43,1.8],[36.6,.1],[35,-1],[-1,-1]],
 [[9.4,-.3],[9.8,1.4],[14.4,2.7],[24.8,4.5],[30.7,7.3],[35.3,10.2],[41.8,12],[51,12.7],[60,12.9],[66.7,12],[70,10],[69.3,7.6],[64,6.3],[55,4.9],[45.8,3.3],[36.6,1],[28,-.3]],
 [[13.7,-.1],[13.7,1],[19.6,2.2],[28.8,3.7],[33,3.9],[34,5.3],[36.6,8.4],[41.8,10.8],[51,12],[58.8,12.2],[65.4,11.2],[68,9.2],[64,6.9],[54.9,5.7],[45.8,4.5],[35.3,2.2],[27.5,.8],[19.6,.3]],
 [[33.3,3.6],[34.6,6.1],[37.9,8.8],[43,10.4],[51,11.2],[58.8,11.2],[63.4,10],[64.7,8.4],[61.4,6.5],[53.6,5.3],[45.8,4.5],[38,3.8]],
 [[35.3,6.9],[36.6,5.3],[41.8,4.3],[49.7,4.9],[58.8,6.5],[62.7,8.4],[61.4,10.2],[54.9,11],[45.8,10.4],[39.2,8.8]],
 [[36.9,6.9],[38.6,5.3],[44.4,4.5],[52.3,5.5],[58.8,7.3],[60.8,8.8],[57.5,10.2],[49.7,10.4],[41.8,9.6],[37.9,8.2]],
 [[38.3,6.9],[40.5,5.5],[45.8,4.9],[52.3,5.9],[57.5,7.6],[58.2,9],[54.2,9.8],[47,9.6],[41.2,8.8]],
 [[39.9,6.9],[42.5,5.7],[46.4,5.3],[51.6,6.1],[55.6,7.6],[54.9,8.8],[48.4,9.2],[42.5,8.4]],
 [[42.2,7.3],[44.4,6.3],[47.7,5.9],[51.6,7.1],[52.3,8.4],[47.7,8.8],[43.8,8.2]],
 [[47.5,7.3],[48,7.7],[48.7,7.4],[48.1,6.9]]
];
var contoursH = [
 [[12.7,3.58],[15.3,4.1],[23.1,4.58],[32.3,4.5],[41.4,4.63],[49.3,3.97],[58.4,3.19],[66.3,2.27],[71.5,1.36],[74.4,0],[74,-.3],[30.5,-.3],[27.1,1.62],[23.1,2.46],[15.3,2.93]],
 [[32.9,-.1],[30.7,1.62],[31.2,2.8],[34.9,3.32],[44,3.66],[51.9,3.19],[61,2.4],[68.9,1.23],[73.5,-.08]],
 [[33.6,.05],[32.9,1.62],[34.2,2.67],[38.8,3.06],[46.7,3.19],[54.5,2.67],[62.4,1.88],[68.9,.7],[70.9,-.08]],
 [[35.2,.05],[34.2,1.49],[36.2,2.35],[41.4,2.8],[48,2.88],[55.8,2.27],[62.4,1.36],[66.9,-.08]],
 [[36.5,.05],[35.9,1.1],[38.2,2],[42.7,2.54],[49.3,2.54],[55.8,1.88],[61,.97],[63,-.08]],
 [[38.2,.18],[37.9,1.23],[40.8,2],[45.4,2.27],[51.2,2.14],[57.1,1.49],[61,.44],[60,-.1],[45,-.1]],
 [[39.5,.44],[39.5,1.23],[42.1,1.83],[46.7,2.01],[52.6,1.75],[57.8,.97],[59,.31],[52,.1],[45.4,.18]],
 [[40.8,.7],[41.4,1.36],[45.4,1.75],[51.2,1.62],[56.5,.89],[55.8,.44],[48,.44],[42.8,.44]],
 [[42.5,.89],[43.4,1.49],[47.3,1.62],[51.9,1.36],[55.2,.78],[50.6,.63],[45.4,.63]],
 [[47.3,1.23],[49.3,1.36],[49.3,1.05],[47.6,1.05]]
];
var contoursI = [
 [[3.3,1.76],[10.5,2.4],[17,4.2],[23.5,4.8],[28.8,7.3],[34,12.4],[35.3,13],[41.8,12.8],[51,12],[61.4,11.5],[68,10.5],[73.5,8.9],[73.2,7.3],[69.3,5.4],[61.4,4],[51,2.8],[37.9,1.25],[26,.47],[17,.4],[7.8,.86],[3.3,1.25]],
 [[10.2,1.65],[14.4,2.8],[19.6,3.6],[26,4.2],[31.4,7.3],[36.6,11.6],[45.8,11.8],[53.6,11.5],[64,10.9],[70.6,9.3],[71.2,7.7],[66.7,5.6],[58.8,4.2],[48.4,3.2],[36.6,2],[28.8,1.06],[18.3,.86],[11.8,1.06]],
 [[13.3,1.5],[18.3,2.3],[26,3.4],[32.7,5.4],[35.3,8.1],[37.9,10.5],[44.4,10.9],[53.6,10.9],[62.7,10.1],[68,8.7],[65.4,6.5],[57.5,4.8],[47,3.3],[35.3,3.6],[30.7,2.8],[28.8,1.45],[18.3,1.4]],
 [[34.6,5.4],[35.3,7.7],[37.9,9.7],[44.4,10.6],[53.6,10.5],[61.4,9.5],[65.4,8.1],[61.4,6.2],[53.6,4.6],[44.4,3.6],[37.9,4.4]],
 [[36.3,6.5],[37.9,8.7],[44.4,9.9],[53.6,9.9],[61.4,8.9],[62.7,7.7],[58.8,6.2],[52.3,5],[44.4,4],[38.6,5]],
 [[37.9,6.7],[39.2,8.3],[45.8,9.5],[53.6,9.5],[60,8.5],[58.8,7.1],[52.3,5.8],[45.8,4.6],[40.5,5.2]],
 [[39.2,6.9],[41.2,8.3],[47,9.1],[54.2,9.1],[58.8,8.3],[57.5,7.3],[51.6,6.2],[46.4,5.1],[41.2,5.8]],
 [[40.5,7.3],[42.5,8.1],[48.4,8.8],[54.9,8.7],[57.5,7.9],[54.9,7.1],[50.3,6.2],[46.4,5.6],[42.5,6.2]],
 [[42.1,7.3],[44.4,8.1],[49.7,8.4],[54.9,8.1],[53.6,7.3],[49.7,6.7],[46.4,6],[43.1,6.5]],
 [[48.6,7.6],[49.1,7.7],[49.2,7.4],[48.7,7.3]]
];

// level of each contour ring
var contourLevels = [10,20,30,40,50,60,70,80,90,100];
var levelColor = d3.scaleLinear()
    .domain([10,21.25,43.75,66.25,88.75,100])
    .range(["#00008f","#0000ff","#00ffff","#ffff00","#ff0000","#800000"]);

var panels = [
    {id:"a", left:67,  top:67.5,  yMax:30, yTicks:yTicks30,  yMinor:1,  core:coreA, lavas:lavasA, cum:cumA, contours:contoursA},
    {id:"b", left:68,  top:393, yMax:5,  yTicks:yTicksK5,  yMinor:.2, core:coreB, lavas:lavasB, cum:cumB, contours:contoursB},
    {id:"c", left:67,  top:726.5, yMax:30, yTicks:yTicks30,  yMinor:1,  core:coreC, lavas:lavasC, cum:cumC, contours:contoursC},
    {id:"d", left:448, top:67.5,  yMax:30, yTicks:yTicks30,  yMinor:1,  core:coreD, lavas:lavasD, cum:cumD, contours:contoursD},
    {id:"e", left:449, top:393, yMax:10, yTicks:yTicksK10, yMinor:.5, core:coreE, lavas:lavasE, cum:cumE, contours:contoursE},
    {id:"f", left:448, top:726.5, yMax:30, yTicks:yTicks30,  yMinor:1,  core:coreF, lavas:lavasF, cum:cumF, contours:contoursF},
    {id:"g", left:830, top:67.5,  yMax:30, yTicks:yTicks30,  yMinor:1,  core:coreG, lavas:lavasG, cum:cumG, melt:meltG, contours:contoursG},
    {id:"h", left:831, top:393, yMax:20, yTicks:yTicksK20, yMinor:1,  core:coreH, gaps:gapsH, lavas:lavasH, cum:cumH, melt:meltH, contours:contoursH},
    {id:"i", left:830, top:726.5, yMax:30, yTicks:yTicks30,  yMinor:1,  core:coreI, lavas:lavasI, cum:cumI, melt:meltI, contours:contoursI}
];

var svg = d3.select('#chart').append('svg')
    .attr('width', width)
    .attr('height', height);

/**
 * Draw one scatter panel with its contours and box
 */
function drawPanel(p) {
    var scaleX = d3.scaleLinear().domain([0,100]).range([0,size]);
    var scaleY = d3.scaleLinear().domain([0,p.yMax]).range([size,0]);
    var g = svg.append('g').attr("transform", "translate("+p.left+","+p.top+")");

    g.append("clipPath").attr("id", "clip-"+p.id)
        .append("rect").attr("width", size).attr("height", size);
    var plot = g.append('g').attr("clip-path", "url(#clip-"+p.id+")");

    var coreLine = d3.line().x(d=>scaleX(d[0])).y(d=>scaleY(d[1])).curve(d3.curveLinearClosed);
    plot.selectAll(".core").data(p.core).enter().append("path")
        .attr("class", "core")
        .attr("d", coreLine)
        .attr("fill", "#cacaca")
        .attr("stroke", "#cacaca")
        .attr("stroke-width", 3)
        .attr("stroke-linejoin", "round");

    plot.selectAll(".gap").data(p.gaps || []).enter().append("circle")
        .attr("class", "gap")
        .attr("cx", d=>scaleX(d[0]))
        .attr("cy", d=>scaleY(d[1]))
        .attr("r", 1.1)
        .attr("fill", "#fff");

    plot.selectAll(".lava").data(p.lavas).enter().append("circle")
        .attr("class", "lava")
        .attr("cx", d=>scaleX(d[0]))
        .attr("cy", d=>scaleY(d[1]))
        .attr("r", 1.6)
        .attr("fill", "#cacaca");

    var ringLine = d3.line().x(d=>scaleX(d[0])).y(d=>scaleY(d[1])).curve(d3.curveCatmullRomClosed.alpha(.5));
    plot.selectAll(".ring").data(p.contours).enter().append("path")
        .attr("class", "ring")
        .attr("d", ringLine)
        .attr("fill", "none")
        .attr("stroke", (d,i)=>levelColor(contourLevels[i]))
        .attr("stroke-width", 1.6);

    plot.selectAll(".cum").data(p.cum).enter().append("circle")
        .attr("class", "cum")
        .attr("cx", d=>scaleX(d[0]))
        .attr("cy", d=>scaleY(d[1]))
        .attr("r", 1.6)
        .attr("fill", "#000");

    plot.selectAll(".melt").data(p.melt || []).enter().append("circle")
        .attr("class", "melt")
        .attr("cx", d=>scaleX(d[0]))
        .attr("cy", d=>scaleY(d[1]))
        .attr("r", 2.6)
        .attr("fill", "#ff00ff");

    // inward ticks on all four sides, minor ones first
    var xMinor = d3.range(0,100.01,5);
    var yMinor = d3.range(0,p.yMax+.001,p.yMinor);
    var axes = [
        [d3.axisBottom(scaleX), xMinor, 2, size, false],
        [d3.axisTop(scaleX), xMinor, 2, 0, false],
        [d3.axisBottom(scaleX), xTicks, 4, size, true],
        [d3.axisTop(scaleX), xTicks, 4, 0, false]
    ];
    axes.forEach(a=>{
        var ax = g.append('g').attr("transform", "translate(0,"+a[3]+")")
            .call(a[0].tickValues(a[1]).tickSize(-a[2]).tickPadding(12).tickFormat(a[4] ? d3.format("d") : ""));
        styleAxis(ax);
    });
    var yAxes = [
        [d3.axisLeft(scaleY), yMinor, 2, 0, false],
        [d3.axisRight(scaleY), yMinor, 2, size, false],
        [d3.axisLeft(scaleY), p.yTicks, 4, 0, true],
        [d3.axisRight(scaleY), p.yTicks, 4, size, false]
    ];
    yAxes.forEach(a=>{
        var ax = g.append('g').attr("transform", "translate("+a[3]+",0)")
            .call(a[0].tickValues(a[1]).tickSize(-a[2]).tickPadding(7).tickFormat(a[4] ? d3.format("d") : ""));
        styleAxis(ax);
    });

    g.append("rect")
        .attr("width", size).attr("height", size)
        .attr("fill", "none")
        .attr("stroke", "#3a3a3a")
        .attr("stroke-width", 1.6);

    // letter tag
    g.append("rect")
        .attr("x", size-27).attr("y", 0)
        .attr("width", 27).attr("height", 26.5)
        .attr("fill", "#000");
    g.append("text")
        .attr("x", size-13.5).attr("y", 19.5)
        .attr("text-anchor", "middle")
        .attr("font-size", 20)
        .style("fill", "#fff")
        .text(p.id);
}

function styleAxis(ax) {
    ax.select(".domain").remove();
    ax.selectAll("line").attr("stroke", "#3a3a3a").attr("stroke-width", 1);
    ax.selectAll("text").attr("font-size", 18.5).attr("font-family", null).style("fill", "#222");
}

panels.forEach(drawPanel);

// column titles
svg.selectAll(".title").data(columnTitles).enter().append("text")
    .attr("class", "title")
    .attr("x", (d,i)=>[194.5,576.5,958][i])
    .attr("y", 25)
    .attr("text-anchor", "middle")
    .attr("font-size", 22.8)
    .text(d=>d);

// axis titles
[194.5,575.5,956].forEach(x=>{
    svg.append("text")
        .attr("x", x).attr("y", 1032)
        .attr("text-anchor", "middle")
        .attr("font-size", 20)
        .text("Mg#");
});
svg.append("text").attr("transform", "translate(28.5,195) rotate(-90)")
    .attr("text-anchor", "middle").attr("font-size", 20).text("CaO");
svg.append("text").attr("transform", "translate(28.5,853) rotate(-90)")
    .attr("text-anchor", "middle").attr("font-size", 20).text("FeOT");
var k2o = svg.append("text").attr("transform", "translate(34.5,520) rotate(-90)")
    .attr("text-anchor", "middle").attr("font-size", 20);
k2o.append("tspan").text("K");
k2o.append("tspan").attr("dy", 6).attr("font-size", 15.5).text("2");
k2o.append("tspan").attr("dy", -6).text("O");

// legend
var legendColors = ["#cacaca","#000","#ff00ff"];
var legendSizes = [4.5,3.8,5];
var legendX = [1135,1134,1134];
var legend = svg.selectAll(".legendRow").data(legendNames).enter().append("g")
    .attr("class", "legendRow")
    .attr("transform", (d,i)=>"translate(0,"+(87.5+21.3*i)+")");
legend.append("circle")
    .attr("cx", 1125)
    .attr("r", (d,i)=>legendSizes[i])
    .attr("fill", (d,i)=>legendColors[i]);
legend.append("text")
    .attr("x", (d,i)=>legendX[i])
    .attr("y", 6)
    .attr("font-size", 19)
    .text(d=>d);

svg.append("text").attr("x", 1125).attr("y", 182).attr("font-size", 19).text("Density");
svg.append("text").attr("x", 1125).attr("y", 204).attr("font-size", 19).text("contours (%)");

// colour bar
var scaleBar = d3.scaleLinear().domain([10,100]).range([466,239]);
svg.selectAll(".barStep").data(d3.range(10,100,.5)).enter().append("rect")
    .attr("class", "barStep")
    .attr("x", 1134)
    .attr("y", d=>scaleBar(d+.5))
    .attr("width", 26)
    .attr("height", scaleBar(10)-scaleBar(11))
    .attr("fill", d=>levelColor(d));
svg.append("rect")
    .attr("x", 1134).attr("y", 239).attr("width", 26).attr("height", 227)
    .attr("fill", "none").attr("stroke", "#666").attr("stroke-width", 1);
var barAxis = svg.append('g').attr("transform", "translate(1160,0)")
    .call(d3.axisRight(scaleBar).tickValues(barTicks).tickSize(-2).tickPadding(7));
barAxis.select(".domain").remove();
barAxis.selectAll("line").attr("stroke", "#333");
barAxis.selectAll("text").attr("font-size", 18.5).attr("font-family", null).style("fill", "#222");
</script>
</body>
</html>
